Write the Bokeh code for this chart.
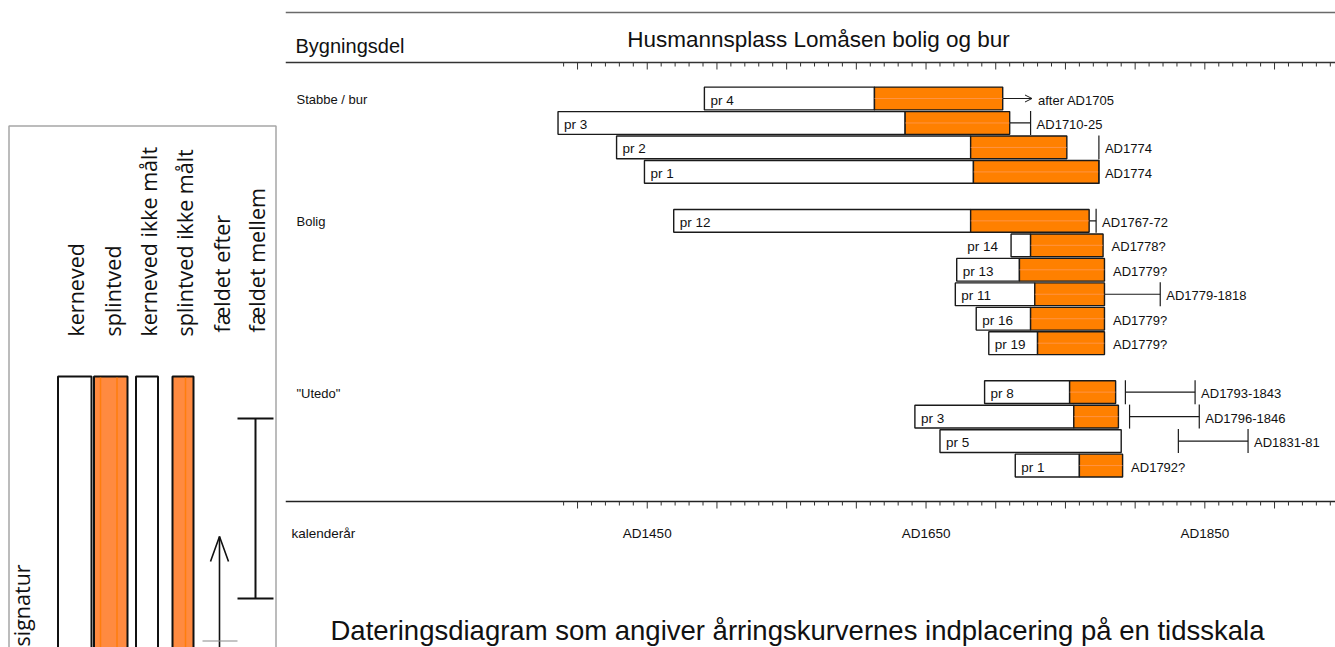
import numpy as np
from bokeh.plotting import figure
from bokeh.models import Range1d, ColumnDataSource, Arrow, OpenHead
from bokeh.layouts import row
from bokeh.embed import file_html
from bokeh.resources import INLINE
from bokeh.core.properties import value

# ---------------- data ----------------
groups = ["Stabbe / bur", "Bolig", "\"Utedo\""]
sample_group = [0, 0, 0, 0, 1, 1, 1, 1, 1, 1, 2, 2, 2, 2]
sample_label = ["pr 4", "pr 3", "pr 2", "pr 1",
                "pr 12", "pr 14", "pr 13", "pr 11", "pr 16", "pr 19",
                "pr 8", "pr 3", "pr 5", "pr 1"]
ring_start = [1491, 1386, 1428, 1448, 1469, 1711, 1672, 1671, 1686, 1695, 1692, 1642, 1660, 1714]
sap_start = [1613, 1635, 1682, 1684, 1682, 1725, 1717, 1728, 1725, 1730, 1753, 1756, None, 1760]
ring_end = [1705, 1710, 1751, 1774, 1767, 1777, 1778, 1778, 1778, 1778, 1786, 1788, 1790, 1791]
fell_kind = ["after", "range", "mark", "mark", "range", None, None, "range", None, None,
             "range", "range", "range", None]
fell_from = [1705, 1710, 1774, 1774, 1767, None, None, 1778, None, None, 1793, 1796, 1831, None]
fell_to = [None, 1725, 1774, 1774, 1772, None, None, 1818, None, None, 1843, 1846, 1881, None]
date_label = ["after AD1705", "AD1710-25", "AD1774", "AD1774", "AD1767-72", "AD1778?", "AD1779?",
              "AD1779-1818", "AD1779?", "AD1779?", "AD1793-1843", "AD1796-1846", "AD1831-81", "AD1792?"]

axis_label_years = [1450, 1650, 1850]
axis_labels = ["AD1450", "AD1650", "AD1850"]
legend_items = ["kerneved", "splintved", "kerneved ikke målt", "splintved ikke målt",
                "fældet efter", "fældet mellem"]

title_text = "Husmannsplass Lomåsen bolig og bur"
caption_text = "Dateringsdiagram som angiver årringskurvernes indplacering på en tidsskala"

# ---------------- style / geometry ----------------
W_LEG, W_MAIN, H = 285, 1050, 647
PX_PER_YEAR = 1.394
YEAR_AT_LEFT = 1190.5
ROW_PX = 24.47
FIRST_ROW_Y = 98
BAR_H = 0.93
TICK_H = 0.98
ARROW_YEARS = 21
ORANGE = "#ff8000"
EDGE = "#1a1a1a"
FONT = value("Liberation Sans")
SMALL = "13.5px"
TXT = "#111111"

rows = [i + g for i, g in enumerate(sample_group)]

p = figure(width=W_MAIN, height=H,
           x_range=Range1d(YEAR_AT_LEFT, YEAR_AT_LEFT + W_MAIN / PX_PER_YEAR),
           y_range=Range1d((H - FIRST_ROW_Y) / ROW_PX, -FIRST_ROW_Y / ROW_PX),
           output_backend="svg", toolbar_location=None, min_border=0,
           x_axis_type=None, y_axis_type=None)
p.outline_line_color = None
p.background_fill_color = "white"
p.border_fill_color = "white"
p.extra_x_ranges = {"px": Range1d(W_LEG, W_LEG + W_MAIN)}
p.extra_y_ranges = {"px": Range1d(H, 0)}

# frame lines
p.segment(x0=[285, 285, 285], x1=[1340, 1340, 1340], y0=[12, 62, 501], y1=[12, 62, 501],
          x_range_name="px", y_range_name="px",
          line_color=["#6a6a6a", "#333333", "#222222"], line_width=[1.3, 1.3, 1.6])

# scale ticks (top and bottom)
tick_years = np.arange(1390, 1950, 10)
major = (tick_years % 50) == 0
for base in (62, 501):
    p.segment(x0=tick_years, x1=tick_years,
              y0=[base] * len(tick_years),
              y1=np.where(major, base + 7, base + 4),
              y_range_name="px", line_color="#333333", line_width=1)

# axis labels
p.text(x=axis_label_years, y=[533] * 3, text=axis_labels, y_range_name="px",
       text_font=FONT, text_font_size=SMALL, text_align="center",
       text_baseline="middle", text_color=TXT)
p.text(x=[291], y=[533], text=["kalenderår"], x_range_name="px", y_range_name="px",
       text_font=FONT, text_font_size=SMALL, text_baseline="middle", text_color=TXT)

# header
p.text(x=[295], y=[45], text=["Bygningsdel"], x_range_name="px", y_range_name="px",
       text_font=FONT, text_font_size="20px", text_baseline="middle", text_color=TXT)
p.text(x=[818], y=[39], text=[title_text], x_range_name="px", y_range_name="px",
       text_font=FONT, text_font_size="22.5px", text_align="center",
       text_baseline="middle", text_color=TXT)

# caption
p.text(x=[330], y=[630], text=[caption_text], x_range_name="px", y_range_name="px",
       text_font=FONT, text_font_size="27.5px", text_baseline="middle", text_color=TXT)

# group labels
first_rows = [rows[sample_group.index(g)] for g in range(len(groups))]
p.text(x=[296] * len(groups), y=first_rows, text=groups, x_range_name="px",
       text_font=FONT, text_font_size="13px", text_baseline="middle", y_offset=1,
       text_color=TXT)

# bars
white_right = [s if s is not None else e for s, e in zip(sap_start, ring_end)]
p.quad(left=ring_start, right=white_right,
       top=[r - BAR_H / 2 for r in rows], bottom=[r + BAR_H / 2 for r in rows],
       fill_color="white", line_color=EDGE, line_width=1.4)
sap_idx = [i for i, s in enumerate(sap_start) if s is not None]
p.quad(left=[sap_start[i] for i in sap_idx], right=[ring_end[i] for i in sap_idx],
       top=[rows[i] - BAR_H / 2 for i in sap_idx], bottom=[rows[i] + BAR_H / 2 for i in sap_idx],
       fill_color=ORANGE, line_color=EDGE, line_width=1.4)
p.segment(x0=[sap_start[i] for i in sap_idx], x1=[ring_end[i] for i in sap_idx],
          y0=[rows[i] for i in sap_idx], y1=[rows[i] for i in sap_idx],
          line_color="#ffa070", line_width=1, line_alpha=0.6)

# sample labels
inside = [(white_right[i] - ring_start[i]) * PX_PER_YEAR > 30 for i in range(len(rows))]
ins = [i for i in range(len(rows)) if inside[i]]
outs = [i for i in range(len(rows)) if not inside[i]]
p.text(x=[ring_start[i] for i in ins], y=[rows[i] for i in ins], text=[sample_label[i] for i in ins],
       x_offset=6, y_offset=1.5, text_font=FONT, text_font_size=SMALL,
       text_baseline="middle", text_color=TXT)
p.text(x=[ring_start[i] for i in outs], y=[rows[i] for i in outs], text=[sample_label[i] for i in outs],
       x_offset=-13, y_offset=1.5, text_font=FONT, text_font_size=SMALL, text_align="right",
       text_baseline="middle", text_color=TXT)

# felling marks
hx0, hx1, hy, tx, ty = [], [], [], [], []
for i, k in enumerate(fell_kind):
    if k == "range":
        hx0.append(fell_from[i]); hx1.append(fell_to[i]); hy.append(rows[i])
        tx.append(fell_to[i]); ty.append(rows[i])
        if fell_from[i] > ring_end[i]:
            tx.append(fell_from[i]); ty.append(rows[i])
    elif k == "mark":
        tx.append(fell_from[i]); ty.append(rows[i])
p.segment(x0=hx0, x1=hx1, y0=hy, y1=hy, line_color=EDGE, line_width=1.2)
p.segment(x0=tx, x1=tx, y0=[y - TICK_H / 2 for y in ty], y1=[y + TICK_H / 2 for y in ty],
          line_color=EDGE, line_width=1.2)

after_idx = [i for i, k in enumerate(fell_kind) if k == "after"]
arr_src = ColumnDataSource(dict(
    x0=[fell_from[i] for i in after_idx], x1=[fell_from[i] + ARROW_YEARS for i in after_idx],
    y=[rows[i] for i in after_idx]))
p.add_layout(Arrow(end=OpenHead(size=7, line_width=1, line_color=EDGE),
                   x_start="x0", y_start="y", x_end="x1", y_end="y",
                   source=arr_src, line_color=EDGE, line_width=1))

# date labels
anchor, offs = [], []
for i in range(len(rows)):
    cands = [ring_end[i]]
    if fell_from[i] is not None:
        cands.append(fell_from[i])
    if fell_to[i] is not None:
        cands.append(fell_to[i])
    if fell_kind[i] == "after":
        cands.append(fell_from[i] + ARROW_YEARS)
    anchor.append(max(cands))
    offs.append(6 if fell_kind[i] is not None else 8.5)
p.text(x=anchor, y=rows, text=date_label, x_offset=offs, y_offset=1.5,
       text_font=FONT, text_font_size="13px", text_baseline="middle", text_color=TXT)

# ---------------- legend panel ----------------
lg = figure(width=W_LEG, height=H, x_range=Range1d(0, W_LEG), y_range=Range1d(H, 0),
            output_backend="svg", toolbar_location=None, min_border=0,
            x_axis_type=None, y_axis_type=None)
lg.outline_line_color = None
lg.border_fill_color = "white"
lg.quad(left=[8.5], right=[275.5], top=[125.5], bottom=[700], fill_color=None,
        line_color="#a6a6a6", line_width=1.5)
sw_left = [57.5, 93.5, 135.5, 172]
sw_right = [91, 127, 157.5, 193]
sw_fill = ["white", "#ff8a40", "white", "#ff8a40"]
lg.quad(left=sw_left, right=sw_right, top=[376] * 4, bottom=[700] * 4,
        fill_color=sw_fill, line_color="#111111", line_width=2)
lg.segment(x0=[100, 116.5, 185], x1=[100, 116.5, 185], y0=[377] * 3, y1=[700] * 3,
           line_color="#ff7a00", line_width=1.5, line_alpha=0.8)
# arrow (fældet efter)
lg.line(x=[219, 219], y=[536, 700], line_color="#111111", line_width=1.6)
lg.line(x=[210, 219, 228], y=[561, 536, 561], line_color="#111111", line_width=1.6)
lg.segment(x0=[202], x1=[237], y0=[640.5], y1=[640.5], line_color="#8a8a8a", line_width=1.2)
# bracket (fældet mellem)
lg.segment(x0=[255, 237, 237], x1=[255, 273, 273], y0=[418, 418, 598], y1=[598, 418, 598],
           line_color="#111111", line_width=2)
lg.text(x=[75, 111.5, 147.5, 183.5, 220.5, 255.5], y=[336, 336, 336, 336, 332, 332],
        text=legend_items, angle=np.pi / 2, text_align="left", text_baseline="middle",
        text_font=value("Open Sans"), text_font_size="21.5px", text_color=TXT)
lg.text(x=[21], y=[646], text=["signatur"], angle=np.pi / 2, text_align="left",
        text_baseline="middle", text_font=value("Open Sans"), text_font_size="21.5px",
        text_color=TXT)

layout = row(lg, p)
open("out.html", "w").write(file_html(layout, INLINE))
